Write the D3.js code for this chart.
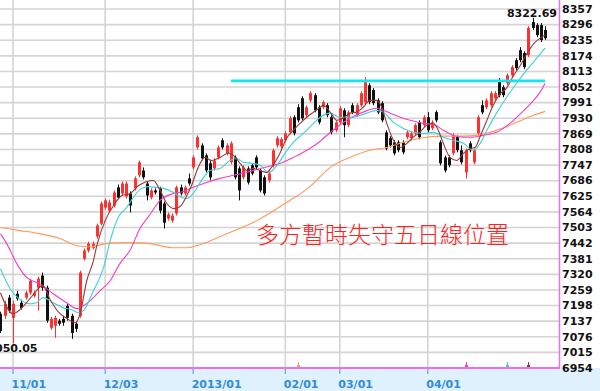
<!DOCTYPE html>
<html><head><meta charset="utf-8">
<script src="https://cdn.jsdelivr.net/npm/d3@7"></script>
<style>body{margin:0;background:#fff}svg{display:block}</style>
</head><body><svg id="c" width="600" height="391"></svg>
<script>
// ---------- data ----------
const yTicks = [8357,8296,8235,8174,8113,8052,7991,7930,7869,7808,7747,7686,7625,7564,7503,7442,7381,7320,7259,7198,7137,7076,7015,6954];
const xTickIdx = [3,25,46,68,81,102];
const xTickLabels = ["11/01","12/03","2013/01","02/01","03/01","04/01"];

const opens  = [7166,7158,7229,7150,7244,7209,7229,7248,7236,7268,7315,7268,7111,7119,7139,7146,7197,7158,7127,7158,
7381,7413,7424,7468,7518,7581,7569,7589,7660,7636,7624,7636,7656,7707,7726,7675,7620,7648,7656,7597,
7538,7530,7558,7660,7636,7695,7738,7816,7824,7785,7754,7734,7777,7844,7793,7758,7777,7734,7699,7734,
7746,7777,7726,7699,7687,7746,7824,7820,7844,7875,7934,7973,8008,7942,8000,8020,7973,7973,7981,7934,
7883,7914,7961,7903,7981,7942,7981,7993,8059,8040,8000,7989,7875,7852,7836,7836,7836,7856,7852,7871,
7914,7903,7934,7891,7954,7836,7777,7777,7793,7856,7805,7718,7832,7758,7871,7981,7973,7981,8008,8079,
8051,8067,8098,8157,8196,8185,8177,8306,8294,8294,8275];
const highs  = [7174,7217,7240,7217,7256,7221,7256,7303,7256,7311,7327,7276,7154,7158,7146,7158,7209,7166,7135,7334,
7421,7448,7448,7518,7605,7616,7612,7648,7671,7683,7683,7644,7703,7765,7738,7683,7656,7656,7663,7605,
7562,7558,7667,7671,7667,7714,7785,7863,7832,7793,7765,7773,7824,7852,7832,7840,7785,7742,7746,7742,
7754,7785,7734,7707,7722,7812,7860,7856,7879,7938,7942,7985,8016,7981,8036,8028,7981,8000,7989,7942,
7922,7977,7969,7961,7989,7989,8036,8091,8067,8048,8008,7997,7883,7860,7844,7844,7844,7883,7879,7910,
7922,7942,7954,7922,7961,7844,7785,7785,7871,7863,7824,7812,7840,7812,7942,8000,8008,8036,8036,8087,
8059,8106,8138,8165,8208,8192,8290,8322.69,8302,8302,8290];
const lows   = [7091,7146,7170,7050.05,7217,7182,7221,7240,7229,7178,7256,7131,7103,7072,7119,7119,7139,7068,7095,7150,
7374,7405,7417,7460,7511,7573,7562,7581,7613,7628,7616,7562,7648,7699,7691,7609,7613,7632,7558,7499,
7530,7522,7550,7628,7628,7667,7730,7808,7765,7718,7687,7726,7769,7808,7785,7750,7691,7609,7691,7671,
7707,7730,7640,7628,7679,7738,7816,7812,7836,7867,7863,7914,7922,7934,7993,7953,7906,7965,7934,7867,
7875,7906,7856,7895,7946,7934,7973,7985,7985,7981,7946,7914,7805,7816,7785,7797,7789,7848,7844,7863,
7848,7895,7875,7883,7914,7746,7718,7738,7785,7797,7750,7695,7797,7750,7863,7946,7965,7973,8000,8012,
8012,8059,8091,8118,8149,8122,8169,8275,8247,8228,8236];
const closes = [7099,7205,7178,7205,7225,7189,7248,7295,7248,7303,7268,7139,7146,7150,7127,7131,7150,7091,7107,7327,
7413,7440,7440,7511,7597,7609,7601,7640,7620,7675,7675,7589,7695,7758,7699,7628,7648,7640,7569,7522,
7554,7550,7660,7636,7660,7675,7777,7856,7773,7726,7699,7765,7816,7816,7824,7832,7699,7648,7738,7679,
7714,7738,7648,7636,7714,7805,7852,7848,7871,7930,7871,7922,7930,7973,8028,7961,7914,7993,7942,7875,
7914,7969,7903,7953,7953,7981,8028,8071,7993,7989,7953,7922,7812,7824,7793,7805,7797,7875,7871,7903,
7856,7934,7883,7914,7922,7754,7726,7746,7863,7805,7758,7805,7805,7805,7934,7953,8000,8028,8028,8020,
8020,8098,8130,8126,8157,8130,8283,8283,8255,8236,8243];

// moving averages: [day index, value]
const ma5 = [[0,7248],[3,7166],[6,7205],[8,7244],[10,7276],[12,7217],[14,7170],[16,7146],[18,7131],[19,7166],
[20.6,7295],[22.2,7374],[23,7432],[25,7530],[27,7589],[29,7628],[31,7636],[33,7667],[35,7683],[36.5,7687],
[38,7652],[39.7,7597],[41.5,7577],[42.9,7585],[44.5,7628],[45.6,7667],[47.2,7738],[48.8,7777],[50.4,7765],
[52.4,7777],[54.4,7793],[55.6,7785],[57.2,7754],[58.8,7726],[60.4,7734],[62,7726],[63.5,7718],[64.7,7738],
[66.7,7793],[68.3,7852],[69.9,7883],[71.5,7910],[73.1,7934],[74.7,7954],[76.3,7973],[77.1,7981],[78.7,7954],
[80.3,7922],[81.8,7930],[83.4,7950],[85,7954],[86.6,7973],[88.2,8000],[89.8,8000],[91,7973],[92.2,7910],
[93.8,7844],[95.4,7816],[97,7832],[98.5,7856],[100.1,7875],[101.7,7903],[103.3,7910],[104.5,7883],[105.7,7832],
[107.3,7777],[108.9,7765],[110.5,7793],[112.1,7812],[113.3,7816],[114.5,7860],[116.1,7922],[117.6,7981],
[119.2,8024],[120.8,8048],[122.4,8095],[124,8134],[125.6,8181],[127.2,8220],[128.8,8243],[130,8255]];
const ma10 = [[0,7342],[2.3,7264],[4.7,7221],[7.1,7205],[8.6,7209],[10.2,7229],[12.6,7209],[15,7189],[17,7182],
[18.6,7170],[19.8,7178],[22.2,7256],[24.6,7346],[26.2,7452],[28.1,7542],[30.1,7581],[31.7,7620],[33.3,7652],
[35.3,7663],[37.3,7660],[39,7656],[41.3,7640],[43.3,7620],[44.5,7616],[46,7636],[48,7687],[50,7726],[52.4,7734],
[54.8,7765],[56.4,7773],[58,7758],[60,7754],[62,7746],[64,7718],[66,7746],[67.9,7793],[69.9,7836],[72.3,7871],
[74.7,7910],[76.3,7934],[78.7,7950],[81,7934],[84.2,7934],[87.4,7950],[89.8,7961],[91.4,7954],[93.8,7914],
[96.1,7891],[98.5,7875],[100.9,7871],[103.3,7875],[105.7,7856],[108.1,7844],[110.5,7832],[112.9,7805],
[114.5,7832],[116.1,7883],[118.4,7950],[120.8,8012],[123.2,8067],[125.6,8118],[128,8165],[130,8204]];
const ma20 = [[0,7479],[1.5,7440],[3.9,7362],[6.3,7307],[9.4,7283],[12.6,7244],[15.8,7209],[18.2,7186],[21.4,7217],
[23.8,7256],[26.2,7295],[28.5,7362],[30.9,7413],[33.3,7499],[35.7,7554],[38.1,7609],[41.3,7636],[43.7,7644],
[46,7660],[49.2,7679],[52.4,7695],[55.6,7707],[58.8,7718],[62,7734],[65.1,7746],[67.5,7758],[69.9,7777],
[73.1,7805],[76.3,7840],[77.1,7852],[80.3,7895],[83.4,7930],[86.6,7954],[89.8,7969],[91.4,7961],[93,7950],
[95.4,7934],[97.8,7922],[100.9,7910],[103.3,7906],[105.7,7883],[108.1,7863],[110.5,7856],[112.9,7856],
[115.2,7863],[118.4,7875],[121.6,7910],[124,7946],[126.4,7985],[128.8,8032],[130,8067]];
const ma60 = [[0,7503],[4.7,7491],[9.4,7479],[14.2,7460],[18.3,7432],[21.4,7428],[25.4,7440],[30.2,7444],
[35.7,7440],[41.2,7424],[44.5,7424],[47.6,7436],[54,7479],[61.2,7530],[68.3,7601],[73.9,7663],[78.7,7738],
[83.4,7777],[88.2,7805],[92.2,7816],[95.4,7832],[100.1,7852],[105.7,7860],[110.5,7860],[113.7,7863],
[118.4,7883],[123.2,7914],[127.2,7942],[130,7957]];

const resistIdx = [55,130];
const resistVal = 8076;
const markerIdx = [71,111,121,126];
const highLabel = "8322.69", highIdx = 127;
const lowLabel = "7050.05", lowIdx = 3;
const note = "多方暫時失守五日線位置";

// ---------- drawing ----------
const svg = d3.select("#c");
const plotR = 559, plotB = 368;
const x = d3.scaleLinear().domain([0,130]).range([0.43, 0.43 + 130*4.19]);
const y = d3.scaleLinear().domain([6954,8357]).range([plotB, 9]);

// bottom band
svg.append("rect").attr("x",0).attr("y",plotB).attr("width",600).attr("height",391-plotB).attr("fill","#dff1fc");

// grid
const g = svg.append("g");
g.selectAll("line.h").data(yTicks).join("line")
  .attr("x1",0).attr("x2",plotR).attr("y1",d=>y(d)).attr("y2",d=>y(d))
  .attr("stroke","#d4d4d4").attr("stroke-width",1.6);
g.selectAll("line.v").data(xTickIdx).join("line")
  .attr("x1",d=>x(d)).attr("x2",d=>x(d)).attr("y1",0).attr("y2",plotB)
  .attr("stroke","#d4d4d4").attr("stroke-width",1.6);

// y labels
svg.append("g").selectAll("text").data(yTicks).join("text")
  .attr("x",562).attr("y",d=>y(d)+3.8)
  .attr("font-family","DejaVu Sans").attr("font-weight","bold").attr("font-size",11)
  .attr("fill","#111").text(d=>d);

// x ticks + labels
svg.append("g").selectAll("line").data(xTickIdx).join("line")
  .attr("x1",d=>x(d)).attr("x2",d=>x(d)).attr("y1",plotB).attr("y2",plotB+6)
  .attr("stroke","#5aa5e0").attr("stroke-width",1.2);
svg.append("g").selectAll("text").data(xTickIdx).join("text")
  .attr("x",d=>x(d)-1.5).attr("y",388)
  .attr("font-family","DejaVu Sans").attr("font-weight","bold").attr("font-size",11)
  .attr("fill","#2f8cd8").text((d,i)=>xTickLabels[i]);

// clip
svg.append("defs").append("clipPath").attr("id","clip").append("rect")
  .attr("x",0).attr("y",0).attr("width",plotR).attr("height",plotB);
const p = svg.append("g").attr("clip-path","url(#clip)");

// candles
const idx = d3.range(opens.length);
const col = i => closes[i] >= opens[i] ? "#ff3030" : "#111";
p.selectAll("line.w").data(idx).join("line")
  .attr("x1",i=>Math.round(x(i))+0.5).attr("x2",i=>Math.round(x(i))+0.5)
  .attr("y1",i=>y(highs[i])).attr("y2",i=>y(lows[i]))
  .attr("stroke",col).attr("stroke-width",1);
p.selectAll("rect.b").data(idx).join("rect")
  .attr("x",i=>Math.round(x(i))-1).attr("width",3)
  .attr("y",i=>y(Math.max(opens[i],closes[i])))
  .attr("height",i=>Math.max(1,Math.abs(y(opens[i])-y(closes[i]))))
  .attr("fill",col);

// moving averages
const line = d3.line().x(d=>x(d[0])).y(d=>y(d[1])).curve(d3.curveMonotoneX);
[[ma60,"#ff9a5a"],[ma20,"#f23fc4"],[ma10,"#3fd0d6"],[ma5,"#993838"]].forEach(([d,c])=>{
  p.append("path").attr("d",line(d)).attr("fill","none").attr("stroke",c).attr("stroke-width",1.1);
});

// resistance line
p.append("line").attr("x1",x(resistIdx[0])).attr("x2",x(resistIdx[1]))
  .attr("y1",y(resistVal)).attr("y2",y(resistVal))
  .attr("stroke","#12e6ee").attr("stroke-width",2.6);

// markers at bottom
const mCol = ["#ff9a5a","#f23fc4","#3fd0d6","#993838"];
svg.append("g").selectAll("g").data(markerIdx).join("g").each(function(d,i){
  const gg = d3.select(this), xx = Math.round(x(d));
  gg.append("line").attr("x1",xx+0.5).attr("x2",xx+0.5).attr("y1",362).attr("y2",368).attr("stroke",mCol[i]);
  gg.append("rect").attr("x",xx-1).attr("y",365).attr("width",3).attr("height",3).attr("fill",mCol[i]);
});

// borders
svg.append("line").attr("x1",0).attr("x2",plotR+1).attr("y1",plotB).attr("y2",plotB)
  .attr("stroke","#f26cf0").attr("stroke-width",2);
svg.append("line").attr("x1",plotR+0.5).attr("x2",plotR+0.5).attr("y1",0).attr("y2",plotB)
  .attr("stroke","#f26cf0").attr("stroke-width",1.5);

// high / low labels
svg.append("text").attr("x",557).attr("y",y(highs[highIdx])-1)
  .attr("text-anchor","end").attr("font-family","DejaVu Sans").attr("font-weight","bold")
  .attr("font-size",11).attr("fill","#111").text(highLabel);
svg.append("text").attr("x",37.5).attr("y",y(lows[lowIdx])+8.5)
  .attr("text-anchor","end").attr("font-family","DejaVu Sans").attr("font-weight","bold")
  .attr("font-size",11).attr("fill","#111").text(lowLabel);

// annotation
svg.append("text").attr("x",256).attr("y",243)
  .attr("font-family","'Noto Sans CJK TC','Noto Sans CJK SC',sans-serif").attr("font-weight",300)
  .attr("font-size",23).attr("fill","#ff2020").text(note);
</script></body></html>
